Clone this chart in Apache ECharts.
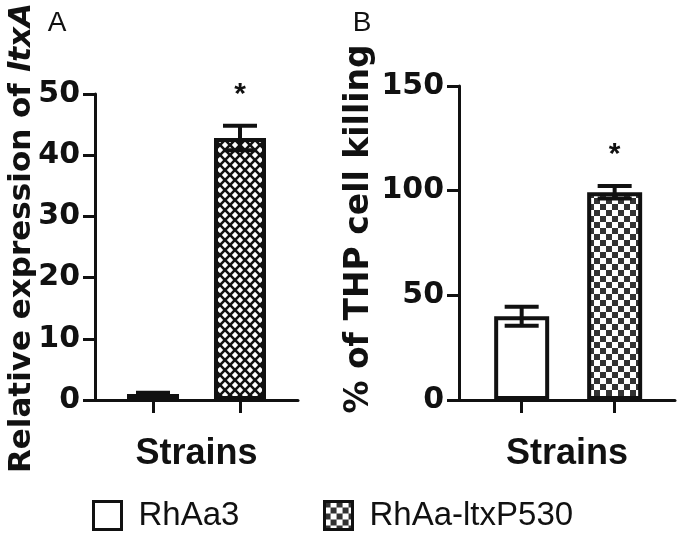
<!DOCTYPE html>
<html>
<head>
<meta charset="utf-8">
<script src="https://cdn.jsdelivr.net/npm/echarts@6/dist/echarts.min.js"></script>
<style>
html,body{margin:0;padding:0;background:#fff;}
#chart{width:677px;height:541px;}
</style>
</head>
<body>
<div id="chart"></div>
<script>
// ---- data ----
const strains = ['RhAa3', 'RhAa-ltxP530'];
const strainPos = [1, 2];
const exprMean = [1.0, 42.8];
const exprErr = [0.2, 2.0];
const killMean = [40.0, 99.2];
const killErr = [4.5, 3.0];
const sigMarks = ['', '*'];
const exprTicks = [0, 10, 20, 30, 40, 50];
const killTicks = [0, 50, 100, 150];

// ---- patterns (style only) ----
function makeChecker(cell, dark, light) {
  const c = document.createElement('canvas');
  c.width = cell * 2; c.height = cell * 2;
  const g = c.getContext('2d');
  g.fillStyle = light; g.fillRect(0, 0, cell * 2, cell * 2);
  g.fillStyle = dark;
  g.fillRect(0, 0, cell, cell);
  g.fillRect(cell, cell, cell, cell);
  return c;
}
function makeCrosshatch(p, h) {
  const c = document.createElement('canvas');
  c.width = p; c.height = p;
  const g = c.getContext('2d');
  g.fillStyle = '#111'; g.fillRect(0, 0, p, p);
  g.fillStyle = '#fff';
  const centers = [[p / 2, p / 2], [0, 0], [p, 0], [0, p], [p, p]];
  centers.forEach(([cx, cy]) => {
    g.beginPath();
    g.moveTo(cx - h, cy); g.lineTo(cx, cy - h); g.lineTo(cx + h, cy); g.lineTo(cx, cy + h);
    g.closePath(); g.fill();
  });
  return c;
}
const checker = { image: makeChecker(6, '#333', '#fff'), repeat: 'repeat' };
const crosshatch = { image: makeCrosshatch(10, 3.2), repeat: 'repeat' };

const INK = '#111';
const tickFont = 'DejaVu Sans';
const textFont = 'Liberation Sans';

function errRender(sig) {
  return function (params, api) {
    const x = api.value(0), m = api.value(1), e = api.value(2);
    const top = api.coord([x, m + e]);
    const bot = api.coord([x, m - e]);
    const hw = 17;
    const st = { stroke: INK, lineWidth: 4 };
    const children = [
      { type: 'line', shape: { x1: top[0], y1: top[1], x2: bot[0], y2: bot[1] }, style: st },
      { type: 'line', shape: { x1: top[0] - hw, y1: top[1], x2: top[0] + hw, y2: top[1] }, style: st },
      { type: 'line', shape: { x1: bot[0] - hw, y1: bot[1], x2: bot[0] + hw, y2: bot[1] }, style: st }
    ];
    const s = sig[params.dataIndex];
    if (s) {
      children.push({ type: 'text', style: { text: s, x: top[0], y: top[1] - 31, align: 'center', verticalAlign: 'middle', font: 'bold 30px "Liberation Sans"', fill: INK } });
    }
    return { type: 'group', children };
  };
}

function yAxisCfg(gridIndex, ticks) {
  return {
    type: 'value', gridIndex, min: ticks[0], max: ticks[ticks.length - 1],
    interval: ticks[1] - ticks[0],
    axisLine: { show: true, lineStyle: { color: INK, width: 3 } },
    axisTick: { show: true, length: 12, lineStyle: { color: INK, width: 3 } },
    axisLabel: { margin: 15, color: INK, fontSize: 30, fontWeight: 'bold', fontFamily: tickFont },
    splitLine: { show: false }
  };
}
function xAxisCfg(gridIndex, min, max) {
  return {
    type: 'value', gridIndex, min, max,
    name: 'Strains', nameLocation: 'middle', nameGap: 36,
    nameTextStyle: { color: INK, fontSize: 36, fontWeight: 'bold', fontFamily: textFont },
    axisLine: { show: true, onZero: false, lineStyle: { color: INK, width: 3 } },
    axisTick: { show: true, length: 13, customValues: strainPos, lineStyle: { color: INK, width: 3 } },
    axisLabel: { show: false },
    splitLine: { show: false }
  };
}

const exprFills = ['#fff', crosshatch];
const killFills = ['#fff', checker];

const series = [];
strains.forEach((name, i) => {
  series.push({
    name, type: 'bar', xAxisIndex: 0, yAxisIndex: 0, barWidth: 52, barGap: '-100%',
    data: [[strainPos[i], exprMean[i]]],
    itemStyle: { color: exprFills[i], borderColor: INK, borderWidth: 4 },
    animation: false
  });
});
strains.forEach((name, i) => {
  series.push({
    name, type: 'bar', xAxisIndex: 1, yAxisIndex: 1, barWidth: 55, barGap: '-100%',
    data: [[strainPos[i], killMean[i]]],
    itemStyle: { color: killFills[i], borderColor: INK, borderWidth: 4 },
    animation: false
  });
});
series.push({
  type: 'custom', xAxisIndex: 0, yAxisIndex: 0, z: 10,
  data: strainPos.map((p, i) => [p, exprMean[i], exprErr[i]]),
  renderItem: errRender(sigMarks), animation: false
});
series.push({
  type: 'custom', xAxisIndex: 1, yAxisIndex: 1, z: 10,
  data: strainPos.map((p, i) => [p, killMean[i], killErr[i]]),
  renderItem: errRender(sigMarks), animation: false
});

const legendCommon = {
  orient: 'horizontal', top: 499, padding: 0, itemWidth: 28, itemHeight: 28, icon: 'rect',
  selectedMode: false,
  itemStyle: { borderColor: INK, borderWidth: 3 },
  textStyle: { color: INK, fontSize: 33, fontFamily: textFont, padding: [0, 0, 0, 12] }
};

const option = {
  backgroundColor: '#fff',
  animation: false,
  grid: [
    { left: 95, top: 94, width: 203, height: 306 },
    { left: 459, top: 86, width: 216, height: 314 }
  ],
  xAxis: [xAxisCfg(0, 0.3333, 2.6667), xAxisCfg(1, 0.326, 2.649)],
  yAxis: [yAxisCfg(0, exprTicks), yAxisCfg(1, killTicks)],
  legend: [
    Object.assign({}, legendCommon, { left: 92, data: [{ name: strains[0], itemStyle: { color: '#fff' } }] }),
    Object.assign({}, legendCommon, { left: 323, data: [{ name: strains[1], itemStyle: { color: checker } }] })
  ],
  graphic: [
    { type: 'text', x: 22, y: 238, rotation: Math.PI / 2,
      style: { text: '{b|Relative expression of }{i|ltxA}', align: 'center', verticalAlign: 'middle',
        rich: { b: { fontSize: 31, fontWeight: 'bold', fontFamily: tickFont, fill: INK },
                i: { fontSize: 31, fontWeight: 'bold', fontStyle: 'italic', fontFamily: tickFont, fill: INK } } } },
    { type: 'text', x: 359, y: 229, rotation: Math.PI / 2,
      style: { text: '% of THP cell killing', align: 'center', verticalAlign: 'middle',
        font: 'bold 33px "DejaVu Sans"', fill: INK } },
    { type: 'text', x: 57, y: 23, style: { text: 'A', align: 'center', verticalAlign: 'middle', font: '28px "Liberation Sans"', fill: INK } },
    { type: 'text', x: 362, y: 23, style: { text: 'B', align: 'center', verticalAlign: 'middle', font: '28px "Liberation Sans"', fill: INK } }
  ],
  series
};

const chart = echarts.init(document.getElementById('chart'), null, { renderer: 'canvas' });
chart.setOption(option);
</script>
</body>
</html>
